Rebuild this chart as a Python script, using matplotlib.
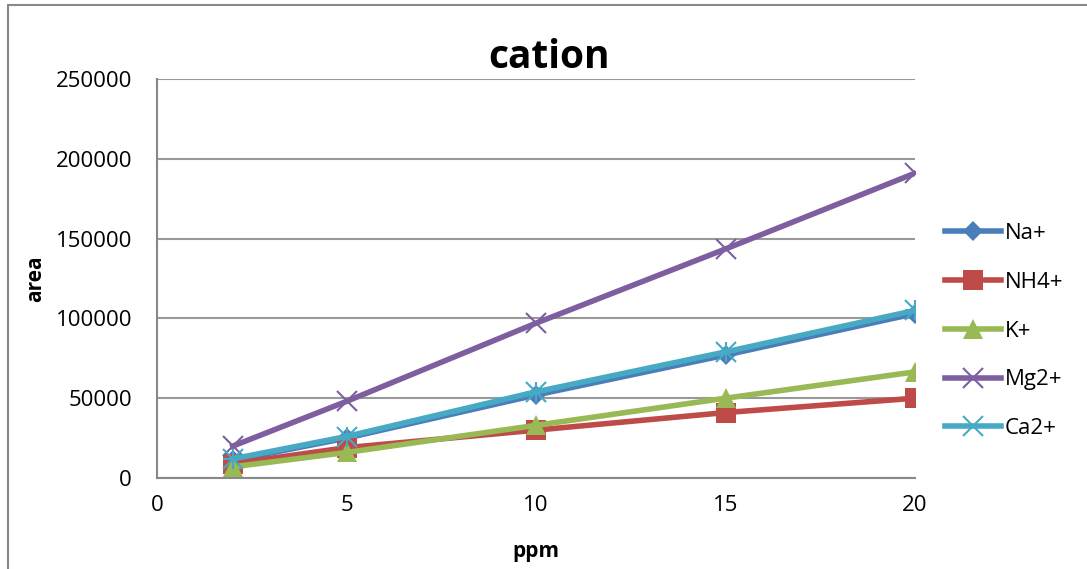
import matplotlib.pyplot as plt
from matplotlib.patches import Rectangle

ppm = [2, 5, 10, 15, 20]
na = [11000, 25000, 52000, 77000, 103000]
nh4 = [9000, 19000, 30000, 41000, 50000]
k = [7000, 16000, 33000, 50000, 66500]
mg = [20000, 48000, 97000, 143500, 191000]
ca = [12000, 26000, 54000, 79000, 105000]

series_names = ["Na+", "NH4+", "K+", "Mg2+", "Ca2+"]
series_values = [na, nh4, k, mg, ca]
colors = ["#4A7EBB", "#BE4B48", "#98B954", "#7D5FA0", "#46AAC5"]
markers = ["D", "s", "^", "x", "x"]
sizes = [10, 14, 14, 14, 14]

plt.rcParams['font.family'] = ['Open Sans', 'DejaVu Sans']

fig = plt.figure(figsize=(10.87, 5.69), dpi=100)
ax = fig.add_axes([157 / 1087, 1 - 478 / 569, (915 - 157) / 1087, (478 - 79) / 569])

# outer chart frame
fig.patches.append(Rectangle((8 / 1087, -0.05), 1.1, 1 - 5 / 569 + 0.05, transform=fig.transFigure,
                             fill=False, edgecolor="#888888", linewidth=1.5))

for name, vals, c, m, s in zip(series_names, series_values, colors, markers, sizes):
    ax.plot(ppm, vals, color=c, linewidth=4, marker=m, markersize=s,
            markeredgewidth=1.5 if m == "x" else 0, markeredgecolor=c, label=name)
# extra arms for Ca2+ star marker
ax.plot(ppm, ca, linestyle="none", marker="+", markersize=14, markeredgewidth=1.5, color=colors[4])

ax.set_xlim(0, 20)
ax.set_ylim(0, 250000)
ax.set_xticks([0, 5, 10, 15, 20])
ax.set_yticks(range(0, 250001, 50000))
ax.yaxis.grid(True, color="#999999", linewidth=1.5)
ax.set_axisbelow(True)
for side in ["right", "top"]:
    ax.spines[side].set_visible(False)
for side in ["left", "bottom"]:
    ax.spines[side].set_color("#888888")
    ax.spines[side].set_linewidth(1.5)
ax.tick_params(length=0, labelsize=16)
ax.tick_params(axis="y", pad=18)
ax.tick_params(axis="x", pad=12)

# title centred over the whole chart area, not the plot area
fig.text(549 / 1087, 1 - 57 / 569, "cation", fontsize=28, fontweight="bold",
         ha="center", va="center")
ax.set_xlabel("ppm", fontsize=15, fontweight="bold", labelpad=18)
ax.set_ylabel("area", fontsize=15, fontweight="bold", labelpad=7)

ax.legend(loc="center left", bbox_to_anchor=(1.025, 0.368), frameon=False, fontsize=16,
          handlelength=2.5, labelspacing=1.25, handletextpad=0.2, borderpad=0)

fig.savefig("out.png", dpi=100)
